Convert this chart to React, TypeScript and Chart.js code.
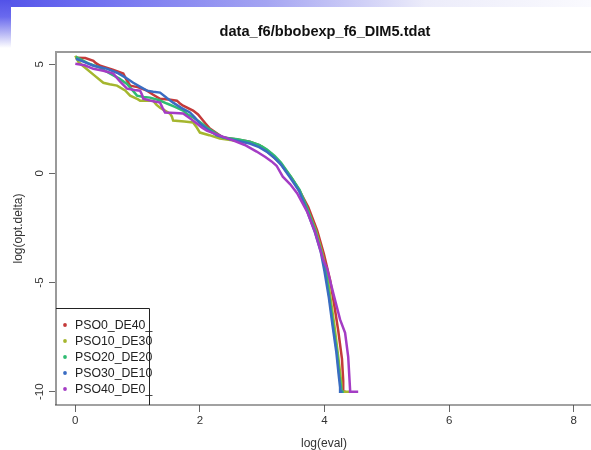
import React, { useEffect, useRef } from "react";
import { Chart, registerables } from "chart.js";
Chart.register(...registerables);

const titleText = "data_f6/bbobexp_f6_DIM5.tdat";
const xAxisTitle = "log(eval)";
const yAxisTitle = "log(opt.delta)";
const xTicks = [0, 2, 4, 6, 8];
const yTicks = [-10, -5, 0, 5];
const seriesNames = ["PSO0_DE40_", "PSO10_DE30", "PSO20_DE20", "PSO30_DE10", "PSO40_DE0_"];
const seriesColors = ["#c43a3a", "#a5b62e", "#2fbb72", "#3a6cc2", "#a43cc4"];

const pso0_x = [0, 0.16, 0.29, 0.33, 0.4, 0.6, 0.77, 0.82, 0.88, 1.0, 1.15, 1.25, 1.36, 1.5, 1.63, 1.68, 1.73, 1.89, 1.97, 2.05, 2.1, 2.16, 2.37, 2.6, 2.8, 2.96, 3.1, 3.28, 3.49, 3.62, 3.74, 3.88, 3.99, 4.09, 4.16, 4.22, 4.28, 4.3, 4.3, 4.34];
const pso0_y = [5.3, 5.28, 5.16, 5.05, 4.93, 4.75, 4.57, 4.3, 4.02, 3.95, 3.79, 3.6, 3.42, 3.38, 3.33, 3.2, 3.1, 2.88, 2.7, 2.42, 2.25, 2.05, 1.64, 1.55, 1.45, 1.28, 0.95, 0.5, -0.3, -0.9, -1.55, -2.6, -3.7, -4.9, -6.1, -7.2, -8.5, -9.5, -10, -10];

const pso10_x = [0, 0.05, 0.12, 0.3, 0.45, 0.55, 0.67, 0.8, 0.88, 1.0, 1.04, 1.25, 1.3, 1.36, 1.52, 1.55, 1.57, 1.75, 1.89, 1.95, 2.0, 2.15, 2.32, 2.55, 2.8, 3.0, 3.15, 3.3, 3.47, 3.6, 3.72, 3.86, 3.96, 4.04, 4.1, 4.16, 4.22, 4.27, 4.27, 4.41];
const pso10_y = [5.39, 5.1, 4.93, 4.5, 4.15, 4.08, 4.02, 3.8, 3.56, 3.4, 3.33, 3.33, 3.15, 3.01, 2.74, 2.6, 2.42, 2.38, 2.33, 2.1, 1.87, 1.75, 1.6, 1.5, 1.4, 1.22, 0.9, 0.45, -0.2, -0.8, -1.6, -2.6, -3.6, -4.6, -5.8, -7.0, -8.4, -9.6, -10, -10];

const pso20_x = [0.01, 0.2, 0.4, 0.48, 0.56, 0.7, 0.83, 0.92, 0.99, 1.1, 1.2, 1.35, 1.47, 1.6, 1.73, 1.8, 1.89, 2.0, 2.11, 2.25, 2.37, 2.6, 2.8, 2.95, 3.07, 3.2, 3.3, 3.46, 3.6, 3.72, 3.85, 3.95, 4.02, 4.08, 4.14, 4.2, 4.24, 4.27, 4.27, 4.31];
const pso20_y = [5.34, 5.05, 4.84, 4.7, 4.57, 4.35, 4.1, 3.8, 3.56, 3.5, 3.47, 3.35, 3.2, 3.05, 2.88, 2.7, 2.56, 2.35, 2.1, 1.85, 1.64, 1.56, 1.45, 1.3, 1.1, 0.8, 0.5, -0.15, -0.75, -1.6, -2.6, -3.6, -4.5, -5.7, -7.0, -8.2, -9.3, -9.9, -10, -10];

const pso30_x = [0.01, 0.15, 0.29, 0.5, 0.67, 0.8, 0.93, 1.05, 1.15, 1.25, 1.36, 1.47, 1.57, 1.7, 1.84, 1.92, 2.0, 2.13, 2.27, 2.5, 2.8, 2.95, 3.07, 3.2, 3.3, 3.45, 3.59, 3.71, 3.84, 3.94, 4.0, 4.07, 4.13, 4.19, 4.23, 4.25, 4.25, 4.29];
const pso30_y = [5.25, 5.1, 4.93, 4.8, 4.61, 4.4, 4.15, 3.95, 3.79, 3.74, 3.7, 3.45, 3.24, 3.0, 2.79, 2.55, 2.28, 2.0, 1.74, 1.55, 1.37, 1.2, 1.0, 0.7, 0.4, -0.2, -0.8, -1.65, -2.65, -3.6, -4.5, -5.7, -7.0, -8.2, -9.3, -9.8, -10, -10];

const pso40_x = [0, 0.15, 0.29, 0.45, 0.61, 0.72, 0.83, 0.95, 1.04, 1.07, 1.09, 1.25, 1.36, 1.4, 1.44, 1.6, 1.73, 1.85, 1.95, 2.03, 2.11, 2.3, 2.53, 2.72, 2.91, 3.05, 3.15, 3.23, 3.33, 3.45, 3.56, 3.72, 3.85, 3.98, 4.04, 4.15, 4.25, 4.33, 4.38, 4.41, 4.41, 4.54];
const pso40_y = [5.02, 4.95, 4.79, 4.7, 4.57, 4.2, 3.88, 3.82, 3.79, 3.6, 3.42, 3.3, 3.24, 3.0, 2.79, 2.77, 2.74, 2.5, 2.28, 2.1, 1.96, 1.75, 1.51, 1.3, 1.0, 0.75, 0.55, 0.35, -0.15, -0.5, -0.91, -1.75, -2.7, -3.97, -4.35, -5.6, -6.7, -7.3, -8.4, -9.9, -10, -10];

const seriesX = [pso0_x, pso10_x, pso20_x, pso30_x, pso40_x];
const seriesY = [pso0_y, pso10_y, pso20_y, pso30_y, pso40_y];

const FONT = '"Liberation Sans", Arial, sans-serif';

const decorPlugin = {
  id: "decor",
  afterDraw(chart: any) {
    const ctx = chart.ctx as CanvasRenderingContext2D;
    const area = chart.chartArea;
    const ys = chart.scales.y;
    ctx.save();
    // plot frame
    ctx.fillStyle = "#9a9a9a";
    ctx.fillRect(area.left, area.top - 1, chart.width - area.left, 2);
    ctx.fillRect(area.left - 1, area.top - 1, 2, area.bottom - area.top + 1);
    ctx.fillStyle = "#444";
    ctx.fillRect(area.left - 1, area.bottom - 0.5, chart.width - area.left + 1, 1);

    // title
    ctx.fillStyle = "#111";
    ctx.font = `bold 14.6px ${FONT}`;
    ctx.textAlign = "center";
    ctx.textBaseline = "alphabetic";
    ctx.fillText(titleText, 325, 36);

    // x axis title
    ctx.fillStyle = "#333";
    ctx.font = `12px ${FONT}`;
    ctx.fillText(xAxisTitle, 324, 447);

    // y axis title
    ctx.save();
    ctx.translate(21.5, (area.top + area.bottom) / 2);
    ctx.rotate(-Math.PI / 2);
    ctx.fillText(yAxisTitle, 0, 0);
    ctx.restore();

    // y tick labels
    ctx.font = `11.5px ${FONT}`;
    yTicks.forEach((v) => {
      const py = ys.getPixelForValue(v);
      ctx.save();
      ctx.translate(42.5, py);
      ctx.rotate(-Math.PI / 2);
      ctx.fillText(String(v), 0, 0);
      ctx.restore();
    });

    // legend
    const lx = area.left, ly = 308.5, lr = 149.5, lb = area.bottom;
    ctx.strokeStyle = "#222";
    ctx.lineWidth = 1;
    ctx.beginPath();
    ctx.moveTo(lx, ly);
    ctx.lineTo(lr, ly);
    ctx.lineTo(lr, lb);
    ctx.stroke();
    ctx.font = `12.3px ${FONT}`;
    ctx.textAlign = "left";
    seriesNames.forEach((name, i) => {
      const cy = 325 + 16 * i;
      ctx.fillStyle = seriesColors[i];
      ctx.beginPath();
      ctx.arc(65, cy, 1.9, 0, Math.PI * 2);
      ctx.fill();
      ctx.fillStyle = "#222";
      ctx.fillText(name, 75, cy + 4.4);
    });
    ctx.restore();
  },
};

export default function App() {
  const ref = useRef<HTMLCanvasElement | null>(null);
  useEffect(() => {
    if (!ref.current) return;
    const datasets = seriesNames.map((name, i) => ({
      label: name,
      data: seriesX[i].map((x, j) => ({ x, y: seriesY[i][j] })),
      borderColor: seriesColors[i],
      backgroundColor: seriesColors[i],
      borderWidth: 2.5,
      pointRadius: 0,
      tension: 0,
      fill: false,
      order: seriesNames.length - 1 - i,
    }));
    const chart = new Chart(ref.current, {
      type: "line",
      data: { datasets },
      plugins: [decorPlugin],
      options: {
        animation: false,
        responsive: false,
        maintainAspectRatio: false,
        layout: { padding: { top: 52, left: 0, right: 0, bottom: 0 } },
        plugins: { legend: { display: false }, tooltip: { enabled: false }, title: { display: false } },
        scales: {
          x: {
            type: "linear",
            min: -0.31,
            max: 8.277,
            afterBuildTicks: (s: any) => {
              s.ticks = xTicks.map((v) => ({ value: v }));
            },
            afterFit: (s: any) => {
              s.height = 45;
            },
            grid: { drawOnChartArea: false, drawTicks: true, tickLength: 7, color: "#666", lineWidth: 1 },
            border: { display: false },
            ticks: {
              color: "#333",
              font: { family: FONT, size: 11.5 },
              padding: 2,
              autoSkip: false,
              maxRotation: 0,
              callback: (v: any) => String(v),
            },
          },
          y: {
            type: "linear",
            min: -10.61,
            max: 5.56,
            afterBuildTicks: (s: any) => {
              s.ticks = yTicks.map((v) => ({ value: v }));
            },
            afterFit: (s: any) => {
              s.width = 56;
            },
            grid: { drawOnChartArea: false, drawTicks: true, tickLength: 7, color: "#666", lineWidth: 1 },
            border: { display: false },
            ticks: { display: false },
          },
        },
      } as any,
    });
    return () => chart.destroy();
  }, []);

  return (
    <div style={{ position: "fixed", left: 0, top: 0, width: 591, height: 450, background: "#fff", overflow: "hidden" }}>
      <div
        style={{
          position: "absolute",
          left: 0,
          top: 0,
          width: 591,
          height: 7,
          background: "linear-gradient(to right, #5252e8 0%, #6e6ef0 15%, #a4a4f2 45%, #ececfa 72%, #fafafe 100%)",
        }}
      />
      <div
        style={{
          position: "absolute",
          left: 0,
          top: 0,
          width: 11,
          height: 48,
          background: "linear-gradient(to bottom, #5252e8 0%, #6a6aee 35%, #b8b8f5 70%, #ffffff 100%)",
        }}
      />
      <canvas ref={ref} width={591} height={450} style={{ position: "absolute", left: 0, top: 0, width: 591, height: 450 }} />
    </div>
  );
}
